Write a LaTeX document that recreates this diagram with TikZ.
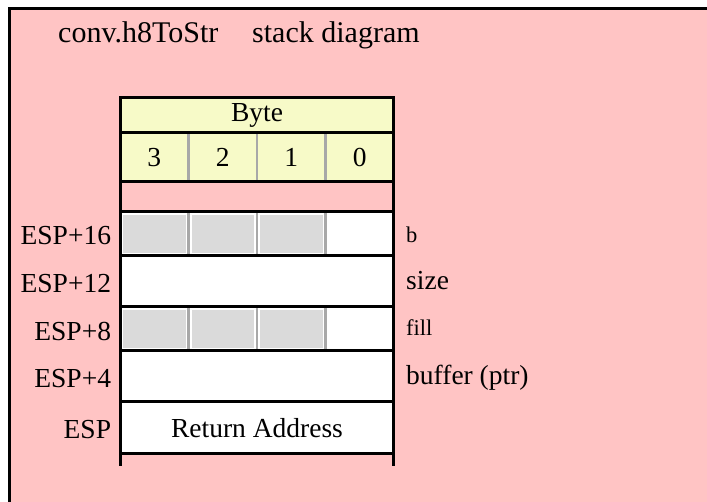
\documentclass[tikz,border=0pt]{standalone}
\usepackage{fontspec}
\setmainfont{Liberation Serif}
\usetikzlibrary{positioning}

\definecolor{bgpink}{HTML}{FFC4C4}
\definecolor{byteyellow}{HTML}{F7FAC8}
\definecolor{cellgray}{HTML}{DADADA}
\definecolor{divgray}{HTML}{A8A8A8}

\tikzset{
  txt/.style={inner sep=0pt, font=\fontsize{27.5}{32}\selectfont},
  smalltxt/.style={inner sep=0pt, font=\fontsize{22.5}{26}\selectfont},
  titletxt/.style={inner sep=0pt, font=\fontsize{30}{34}\selectfont},
  slot/.style={draw=black, line width=3pt, fill=white, inner sep=0pt, outer sep=0pt, minimum width=273.5pt},
  unused/.style={draw=white, line width=1.5pt, fill=cellgray, inner sep=0pt, outer sep=0pt, minimum width=64pt},
  divider/.style={divgray, line width=2.5pt},
}

\begin{document}
\begin{tikzpicture}[x=1pt,y=-1pt]
    \useasboundingbox (0,0) rectangle (707,502);
    % background frame
    \fill[bgpink] (9,8.5) rectangle (707,502);
    \draw[line width=3pt] (9,502) -- (9,8.5) -- (707,8.5);
    \node[titletxt, anchor=base west] (title) at (58,43) {conv.h8ToStr};
    \node[titletxt, anchor=base west] (subtitle) at (252,43) {stack diagram};
    % byte header
    \node[slot, fill=byteyellow, minimum height=35pt] (byte) at (257,115.5) {};
    \node[txt] at (byte) {Byte};
    \node[slot, fill=byteyellow, minimum height=49pt] (digits) at (257,157.5) {};
    \draw[divider] (188.5,134.5) -- (188.5,180.5);
    \draw[divider] (257,134.5) -- (257,180.5);
    \draw[divider] (325.5,134.5) -- (325.5,180.5);
    \node[txt] (d3) at (154.25,157.5) {3};
    \node[txt] (d2) at (222.75,157.5) {2};
    \node[txt] (d1) at (291.25,157.5) {1};
    \node[txt] (d0) at (359.75,157.5) {0};
    % stack slots
    \node[slot, minimum height=44pt] (s16) at (257,234) {};
    \node[slot, minimum height=51pt] (s12) at (257,281.5) {};
    \node[slot, minimum height=44pt] (s8) at (257,329) {};
    \node[slot, minimum height=51pt] (s4) at (257,376.5) {};
    \node[slot, minimum height=52pt] (s0) at (257,428) {};
    % unused bytes of b and fill
    \node[unused, minimum height=39pt] (b3) at (154.25,234) {};
    \node[unused, minimum height=39pt] (b2) at (222.75,234) {};
    \node[unused, minimum height=39pt] (b1) at (291.25,234) {};
    \draw[divider] (188.5,213.5) -- (188.5,254.5);
    \draw[divider] (257,213.5) -- (257,254.5);
    \draw[divider] (325.5,213.5) -- (325.5,254.5);
    \node[unused, minimum height=39pt] (f3) at (154.25,329) {};
    \node[unused, minimum height=39pt] (f2) at (222.75,329) {};
    \node[unused, minimum height=39pt] (f1) at (291.25,329) {};
    \draw[divider] (188.5,308.5) -- (188.5,349.5);
    \draw[divider] (257,308.5) -- (257,349.5);
    \draw[divider] (325.5,308.5) -- (325.5,349.5);
    \node[txt] at (s0) {Return Address};
    % side rails
    \coordinate (railL) at (120.25,466);
    \coordinate (railR) at (393.75,466);
    \draw[line width=3pt] (digits.south west) -- (s16.north west);
    \draw[line width=3pt] (digits.south east) -- (s16.north east);
    \draw[line width=3pt] (s0.south west) -- (railL);
    \draw[line width=3pt] (s0.south east) -- (railR);
    % offsets
    \node[txt, anchor=east, left=9pt of s16, yshift=-2pt] (o16) {ESP+16};
    \node[txt, anchor=east, left=9pt of s12, yshift=-2pt] (o12) {ESP+12};
    \node[txt, anchor=east, left=9pt of s8, yshift=-2pt] (o8) {ESP+8};
    \node[txt, anchor=east, left=9pt of s4, yshift=-2pt] (o4) {ESP+4};
    \node[txt, anchor=east, left=9pt of s0, yshift=-2pt] (o0) {ESP};
    % parameters
    \node[smalltxt, anchor=base west] (pb) at (406,243) {b};
    \node[txt, anchor=base west] (psize) at (406,290) {size};
    \node[smalltxt, anchor=base west] (pfill) at (406,336) {fill};
    \node[txt, anchor=base west] (pbuf) at (406,385) {buffer (ptr)};
\end{tikzpicture}
\end{document}
